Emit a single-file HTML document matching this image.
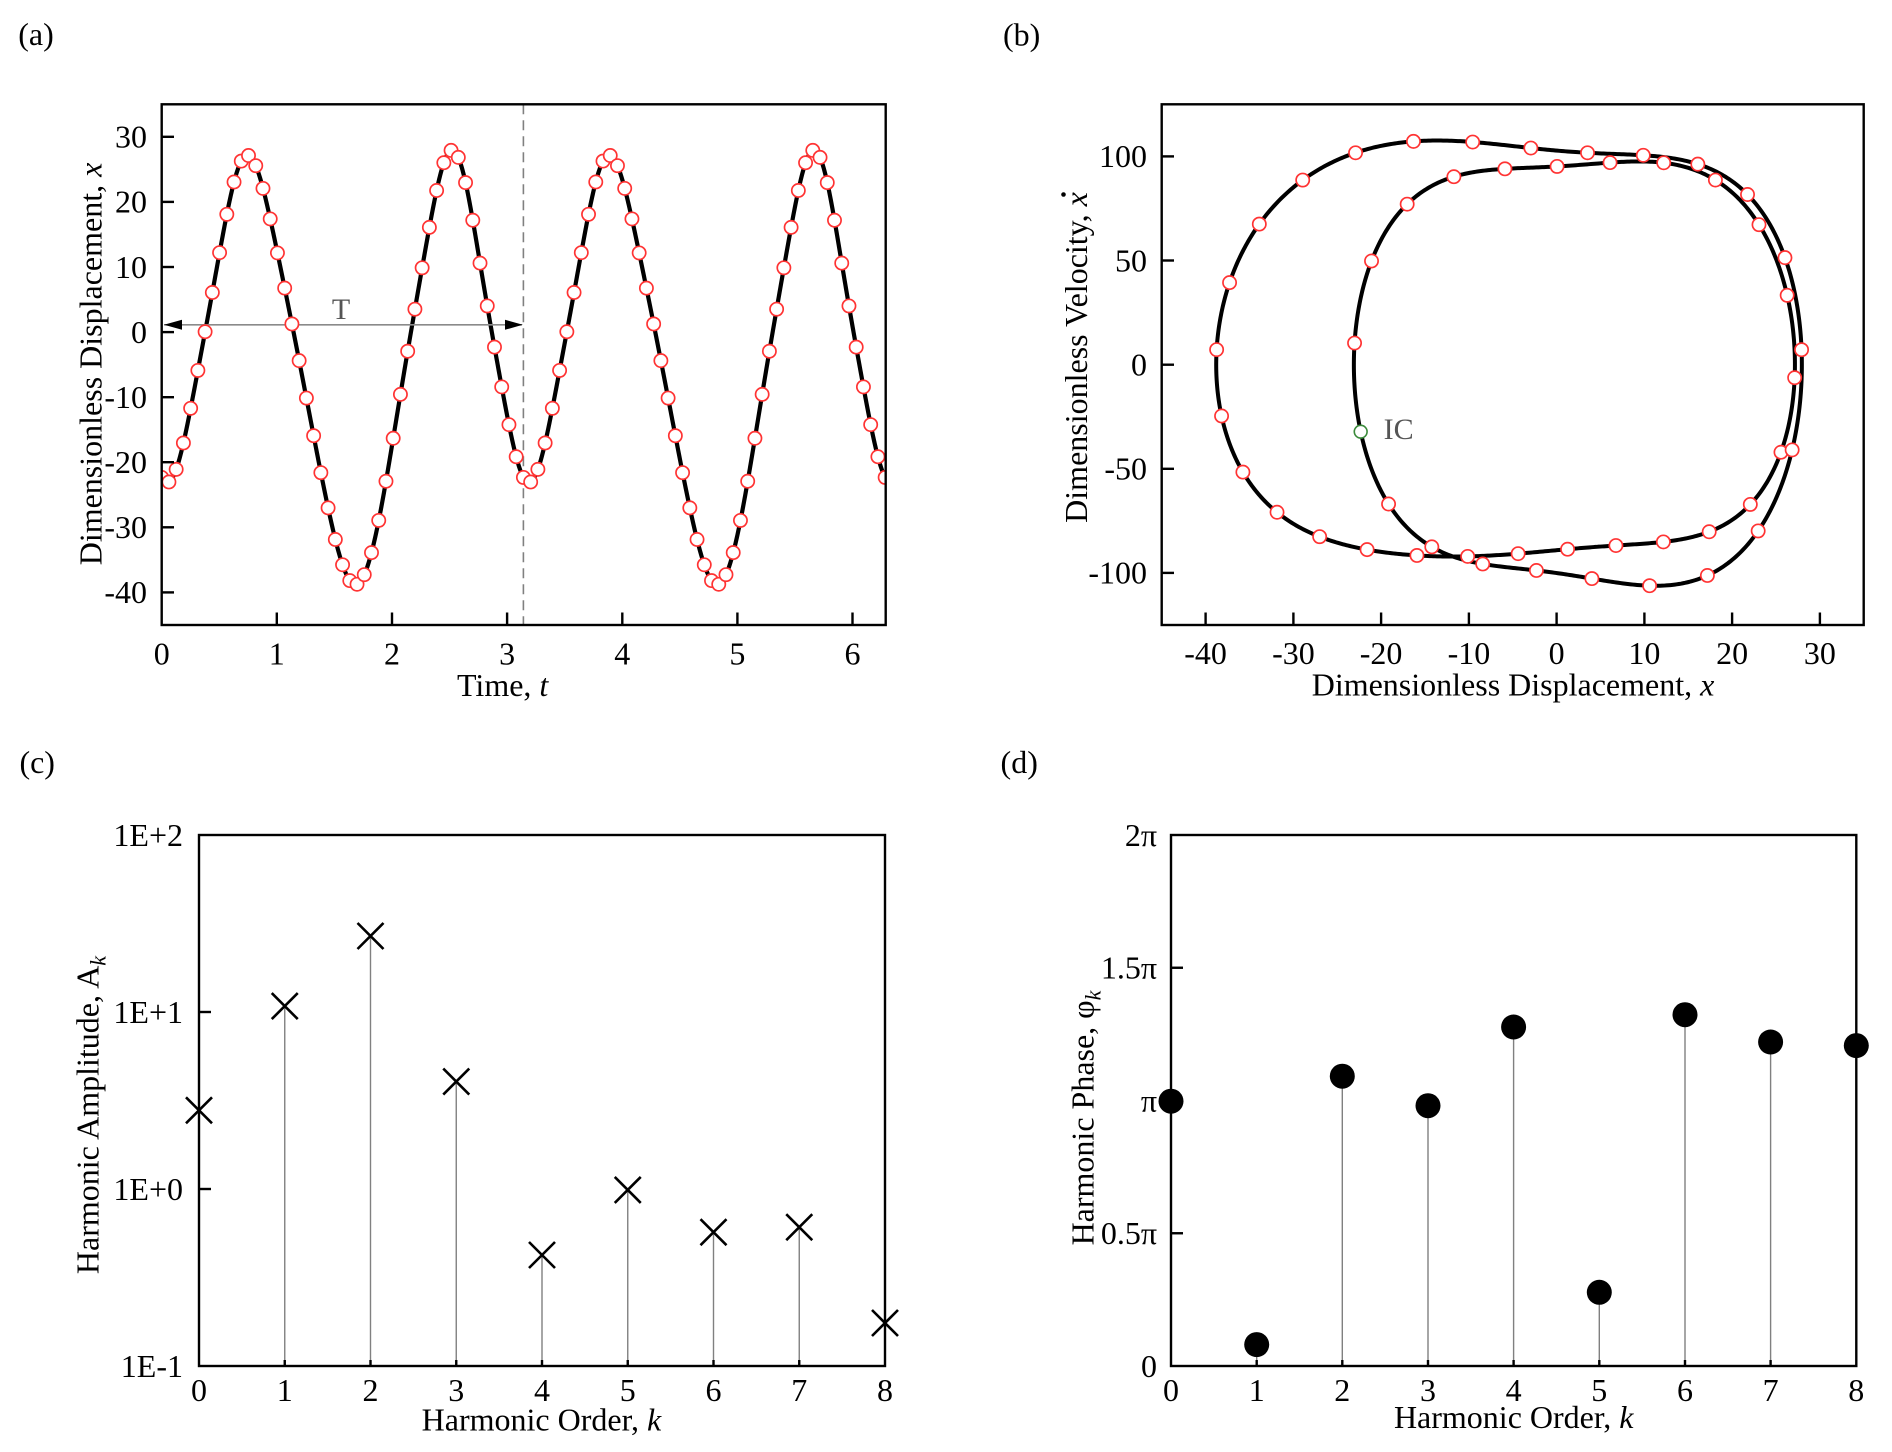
<!DOCTYPE html>
<html>
<head>
<meta charset="utf-8">
<style>
  html,body{margin:0;padding:0;background:#fff;}
  svg{display:block;}
  text{font-family:"Liberation Serif","Times New Roman",serif;fill:#000;}
</style>
</head>
<body>
<svg id="fig" xmlns="http://www.w3.org/2000/svg" width="1892" height="1452" viewBox="0 0 1892 1452">
  <rect x="0" y="0" width="1892" height="1452" fill="#fff"/>
  <defs>
    <clipPath id="clipA"><rect x="161.7" y="104.3" width="724" height="520.7"/></clipPath>
  </defs>

  <!-- ================= Panel (a) ================= -->
  <text x="36" y="45" font-size="32" text-anchor="middle">(a)</text>
  <g id="curveA" clip-path="url(#clipA)"></g>
  <!-- dashed line at t = pi -->
  <line x1="523.4" y1="104.3" x2="523.4" y2="625" stroke="#808080" stroke-width="1.6" stroke-dasharray="10,6"/>
  <!-- T arrow -->
  <line x1="164" y1="324.8" x2="522" y2="324.8" stroke="#8a8a8a" stroke-width="1.6"/>
  <polygon points="164,324.8 182,319.8 182,329.8" fill="#000"/>
  <polygon points="522.8,324.8 505,319.8 505,329.8" fill="#000"/>
  <text x="341" y="319" font-size="30" text-anchor="middle" style="fill:#555">T</text>
  <g id="markersA" clip-path="url(#clipA)"></g>
  <rect x="161.7" y="104.3" width="724" height="520.7" fill="none" stroke="#000" stroke-width="2.4"/>
  <g stroke="#000" stroke-width="2.4">
    <line x1="161.7" y1="136.8" x2="174" y2="136.8"/>
    <line x1="161.7" y1="201.9" x2="174" y2="201.9"/>
    <line x1="161.7" y1="267.0" x2="174" y2="267.0"/>
    <line x1="161.7" y1="332.1" x2="174" y2="332.1"/>
    <line x1="161.7" y1="397.2" x2="174" y2="397.2"/>
    <line x1="161.7" y1="462.2" x2="174" y2="462.2"/>
    <line x1="161.7" y1="527.3" x2="174" y2="527.3"/>
    <line x1="161.7" y1="592.4" x2="174" y2="592.4"/>
    <line x1="276.8" y1="625" x2="276.8" y2="612.5"/>
    <line x1="392.0" y1="625" x2="392.0" y2="612.5"/>
    <line x1="507.1" y1="625" x2="507.1" y2="612.5"/>
    <line x1="622.3" y1="625" x2="622.3" y2="612.5"/>
    <line x1="737.4" y1="625" x2="737.4" y2="612.5"/>
    <line x1="852.5" y1="625" x2="852.5" y2="612.5"/>
  </g>
  <g font-size="32" text-anchor="end">
    <text x="147" y="147.6">30</text>
    <text x="147" y="212.7">20</text>
    <text x="147" y="277.8">10</text>
    <text x="147" y="342.9">0</text>
    <text x="147" y="408.0">-10</text>
    <text x="147" y="473.0">-20</text>
    <text x="147" y="538.1">-30</text>
    <text x="147" y="603.2">-40</text>
  </g>
  <g font-size="32" text-anchor="middle">
    <text x="161.7" y="664.6">0</text>
    <text x="276.8" y="664.6">1</text>
    <text x="392.0" y="664.6">2</text>
    <text x="507.1" y="664.6">3</text>
    <text x="622.3" y="664.6">4</text>
    <text x="737.4" y="664.6">5</text>
    <text x="852.5" y="664.6">6</text>
  </g>
  <text x="457" y="696" font-size="32">Time, <tspan font-style="italic">t</tspan></text>
  <text transform="translate(101.5,364) rotate(-90)" font-size="32" text-anchor="middle">Dimensionless Displacement, <tspan font-style="italic">x</tspan></text>

  <!-- ================= Panel (b) ================= -->
  <text x="1021.6" y="45.5" font-size="32" text-anchor="middle">(b)</text>
  <g id="curveB"></g>
  <g id="markersB"></g>
  <text x="1383.6" y="439.2" font-size="30" style="fill:#555">IC</text>
  <rect x="1161.7" y="104.3" width="702" height="520.7" fill="none" stroke="#000" stroke-width="2.4"/>
  <g stroke="#000" stroke-width="2.4">
    <line x1="1161.7" y1="156.4" x2="1174" y2="156.4"/>
    <line x1="1161.7" y1="260.5" x2="1174" y2="260.5"/>
    <line x1="1161.7" y1="364.7" x2="1174" y2="364.7"/>
    <line x1="1161.7" y1="468.8" x2="1174" y2="468.8"/>
    <line x1="1161.7" y1="572.9" x2="1174" y2="572.9"/>
    <line x1="1205.6" y1="625" x2="1205.6" y2="612.5"/>
    <line x1="1293.4" y1="625" x2="1293.4" y2="612.5"/>
    <line x1="1381.1" y1="625" x2="1381.1" y2="612.5"/>
    <line x1="1468.9" y1="625" x2="1468.9" y2="612.5"/>
    <line x1="1556.6" y1="625" x2="1556.6" y2="612.5"/>
    <line x1="1644.4" y1="625" x2="1644.4" y2="612.5"/>
    <line x1="1732.1" y1="625" x2="1732.1" y2="612.5"/>
    <line x1="1819.9" y1="625" x2="1819.9" y2="612.5"/>
  </g>
  <g font-size="32" text-anchor="end">
    <text x="1147" y="167.2">100</text>
    <text x="1147" y="271.3">50</text>
    <text x="1147" y="375.5">0</text>
    <text x="1147" y="479.6">-50</text>
    <text x="1147" y="583.7">-100</text>
  </g>
  <g font-size="32" text-anchor="middle">
    <text x="1205.6" y="664.1">-40</text>
    <text x="1293.4" y="664.1">-30</text>
    <text x="1381.1" y="664.1">-20</text>
    <text x="1468.9" y="664.1">-10</text>
    <text x="1556.6" y="664.1">0</text>
    <text x="1644.4" y="664.1">10</text>
    <text x="1732.1" y="664.1">20</text>
    <text x="1819.9" y="664.1">30</text>
  </g>
  <text x="1513" y="695.6" font-size="32" text-anchor="middle">Dimensionless Displacement, <tspan font-style="italic">x</tspan></text>
  <g transform="translate(1087,357.5) rotate(-90)">
    <text x="0" y="0" font-size="32" text-anchor="middle">Dimensionless Velocity, <tspan font-style="italic">x</tspan></text>
    <circle cx="163" cy="-23.5" r="2.3" fill="#000"/>
  </g>

  <!-- ================= Panel (c) ================= -->
  <text x="37.2" y="773" font-size="32" text-anchor="middle">(c)</text>
  <g stroke="#808080" stroke-width="1.4">
    <line x1="284.75" y1="1366" x2="284.75" y2="1006.1"/>
    <line x1="370.5" y1="1366" x2="370.5" y2="936.0"/>
    <line x1="456.25" y1="1366" x2="456.25" y2="1081.6"/>
    <line x1="542" y1="1366" x2="542" y2="1255.0"/>
    <line x1="627.75" y1="1366" x2="627.75" y2="1189.9"/>
    <line x1="713.5" y1="1366" x2="713.5" y2="1232.2"/>
    <line x1="799.25" y1="1366" x2="799.25" y2="1227.2"/>
  </g>
  <rect x="199" y="835" width="686" height="531" fill="none" stroke="#000" stroke-width="2.4"/>
  <g stroke="#000" stroke-width="2.4">
    <line x1="199" y1="1012" x2="211" y2="1012"/>
    <line x1="199" y1="1189" x2="211" y2="1189"/>
    <line x1="284.75" y1="1366" x2="284.75" y2="1360"/>
    <line x1="370.5" y1="1366" x2="370.5" y2="1360"/>
    <line x1="456.25" y1="1366" x2="456.25" y2="1360"/>
    <line x1="542" y1="1366" x2="542" y2="1360"/>
    <line x1="627.75" y1="1366" x2="627.75" y2="1360"/>
    <line x1="713.5" y1="1366" x2="713.5" y2="1360"/>
    <line x1="799.25" y1="1366" x2="799.25" y2="1360"/>
  </g>
  <g id="crossC" stroke="#000" stroke-width="2.6" fill="none"></g>
  <g font-size="32" text-anchor="end">
    <text x="183" y="845.8">1E+2</text>
    <text x="183" y="1022.8">1E+1</text>
    <text x="183" y="1199.8">1E+0</text>
    <text x="183" y="1376.8">1E-1</text>
  </g>
  <g font-size="32" text-anchor="middle">
    <text x="199" y="1400.8">0</text>
    <text x="284.75" y="1400.8">1</text>
    <text x="370.5" y="1400.8">2</text>
    <text x="456.25" y="1400.8">3</text>
    <text x="542" y="1400.8">4</text>
    <text x="627.75" y="1400.8">5</text>
    <text x="713.5" y="1400.8">6</text>
    <text x="799.25" y="1400.8">7</text>
    <text x="885" y="1400.8">8</text>
  </g>
  <text x="541.4" y="1430.5" font-size="32" text-anchor="middle">Harmonic Order, <tspan font-style="italic">k</tspan></text>
  <text transform="translate(98.3,1115) rotate(-90)" font-size="32" text-anchor="middle">Harmonic Amplitude, A<tspan font-style="italic" font-size="22" dy="7">k</tspan></text>

  <!-- ================= Panel (d) ================= -->
  <text x="1019.2" y="773" font-size="32" text-anchor="middle">(d)</text>
  <g stroke="#808080" stroke-width="1.4">
    <line x1="1256.7" y1="1366" x2="1256.7" y2="1344.6"/>
    <line x1="1342.3" y1="1366" x2="1342.3" y2="1076.2"/>
    <line x1="1428" y1="1366" x2="1428" y2="1105.7"/>
    <line x1="1513.6" y1="1366" x2="1513.6" y2="1027.0"/>
    <line x1="1599.3" y1="1366" x2="1599.3" y2="1292.3"/>
    <line x1="1685" y1="1366" x2="1685" y2="1014.7"/>
    <line x1="1770.6" y1="1366" x2="1770.6" y2="1042.0"/>
  </g>
  <rect x="1171" y="835" width="685.3" height="531" fill="none" stroke="#000" stroke-width="2.4"/>
  <g stroke="#000" stroke-width="2.4">
    <line x1="1171" y1="967.75" x2="1183" y2="967.75"/>
    <line x1="1171" y1="1100.5" x2="1183" y2="1100.5"/>
    <line x1="1171" y1="1233.25" x2="1183" y2="1233.25"/>
    <line x1="1256.7" y1="1366" x2="1256.7" y2="1360"/>
    <line x1="1342.3" y1="1366" x2="1342.3" y2="1360"/>
    <line x1="1428" y1="1366" x2="1428" y2="1360"/>
    <line x1="1513.6" y1="1366" x2="1513.6" y2="1360"/>
    <line x1="1599.3" y1="1366" x2="1599.3" y2="1360"/>
    <line x1="1685" y1="1366" x2="1685" y2="1360"/>
    <line x1="1770.6" y1="1366" x2="1770.6" y2="1360"/>
  </g>
  <g fill="#000">
    <circle cx="1171" cy="1101.2" r="12.5"/>
    <circle cx="1256.7" cy="1344.6" r="12.5"/>
    <circle cx="1342.3" cy="1076.2" r="12.5"/>
    <circle cx="1428" cy="1105.7" r="12.5"/>
    <circle cx="1513.6" cy="1027.0" r="12.5"/>
    <circle cx="1599.3" cy="1292.3" r="12.5"/>
    <circle cx="1685" cy="1014.7" r="12.5"/>
    <circle cx="1770.6" cy="1042.0" r="12.5"/>
    <circle cx="1856.3" cy="1045.6" r="12.5"/>
  </g>
  <g font-size="32" text-anchor="end">
    <text x="1157" y="845.8">2π</text>
    <text x="1157" y="978.5">1.5π</text>
    <text x="1157" y="1111.3">π</text>
    <text x="1157" y="1244">0.5π</text>
    <text x="1157" y="1376.8">0</text>
  </g>
  <g font-size="32" text-anchor="middle">
    <text x="1171" y="1400.8">0</text>
    <text x="1256.7" y="1400.8">1</text>
    <text x="1342.3" y="1400.8">2</text>
    <text x="1428" y="1400.8">3</text>
    <text x="1513.6" y="1400.8">4</text>
    <text x="1599.3" y="1400.8">5</text>
    <text x="1685" y="1400.8">6</text>
    <text x="1770.6" y="1400.8">7</text>
    <text x="1856.3" y="1400.8">8</text>
  </g>
  <text x="1513.7" y="1428" font-size="32" text-anchor="middle">Harmonic Order, <tspan font-style="italic">k</tspan></text>
  <text transform="translate(1093.5,1118) rotate(-90)" font-size="32" text-anchor="middle">Harmonic Phase, φ<tspan font-style="italic" font-size="22" dy="7">k</tspan></text>
</svg>

<script>
(function(){
  var NS = "http://www.w3.org/2000/svg";
  function el(name, attrs, parent){
    var e = document.createElementNS(NS, name);
    for (var k in attrs) e.setAttribute(k, attrs[k]);
    parent.appendChild(e);
    return e;
  }
  // crosses for panel (c)
  var cg = document.getElementById("crossC");
  var cx = [199,284.75,370.5,456.25,542,627.75,713.5,799.25,885];
  var cy = [1110.3,1006.1,936.0,1081.6,1255.0,1189.9,1232.2,1227.2,1323];
  var h = 13;
  for (var i=0;i<cx.length;i++){
    el("path",{d:"M"+(cx[i]-h)+" "+(cy[i]-h)+"L"+(cx[i]+h)+" "+(cy[i]+h)+"M"+(cx[i]-h)+" "+(cy[i]+h)+"L"+(cx[i]+h)+" "+(cy[i]-h)},cg);
  }

  // measured samples over one period T = pi (50 samples)
  var v = [-22.2,-23.1,-21.1,-17.0,-11.7,-5.9,0.06,6.1,12.2,18.1,23.1,26.2,27.2,25.6,22.0,17.4,12.2,6.8,1.2,-4.4,
           -10.1,-15.9,-21.6,-27.0,-31.9,-35.7,-38.2,-38.7,-37.3,-33.9,-28.9,-22.9,-16.3,-9.6,-2.9,3.5,9.9,16.1,21.8,25.9,
           28.0,26.9,22.9,17.2,10.6,4.0,-2.2,-8.5,-14.2,-19.2];
  var N = v.length, K = 9;
  var a = [], b = [];
  for (var k=0;k<=K;k++){
    var sa=0, sb=0;
    for (var n=0;n<N;n++){
      var ang = 2*Math.PI*k*n/N;
      sa += v[n]*Math.cos(ang); sb += v[n]*Math.sin(ang);
    }
    a.push(2*sa/N); b.push(2*sb/N);
  }
  function f(t){
    var s = a[0]/2;
    for (var k=1;k<=K;k++){ s += a[k]*Math.cos(2*k*t) + b[k]*Math.sin(2*k*t); }
    return s;
  }
  function df(t){
    var s = 0;
    for (var k=1;k<=K;k++){ s += 2*k*(-a[k]*Math.sin(2*k*t) + b[k]*Math.cos(2*k*t)); }
    return s;
  }
  // Panel (a)
  function AX(t){ return 161.7 + 115.14*t; }
  function AY(x){ return 104.3 + (35 - x)*6.509; }
  var d = "", M = 1400;
  for (var i=0;i<=M;i++){
    var t = 2*Math.PI*i/M;
    d += (i?"L":"M") + AX(t).toFixed(2) + " " + AY(f(t)).toFixed(2);
  }
  el("path",{d:d, fill:"none", stroke:"#000", "stroke-width":"4.2", "stroke-linejoin":"round"}, document.getElementById("curveA"));
  var ma = document.getElementById("markersA");
  for (var i=0;i<=100;i++){
    var t = Math.PI*i/50;
    el("circle",{cx:AX(t).toFixed(2), cy:AY(f(t)).toFixed(2), r:"6.6", fill:"#fff", stroke:"#ff3333", "stroke-width":"1.7"}, ma);
  }
  // Panel (b)
  function BX(x){ return 1161.7 + (x + 45)*8.775; }
  function BY(y){ return 104.3 + (125 - y)*2.0828; }
  d = "";
  for (var i=0;i<=M;i++){
    var t = Math.PI*i/M;
    d += (i?"L":"M") + BX(f(t)).toFixed(2) + " " + BY(df(t)).toFixed(2);
  }
  d += "Z";
  el("path",{d:d, fill:"none", stroke:"#000", "stroke-width":"4", "stroke-linejoin":"round"}, document.getElementById("curveB"));
  var mb = document.getElementById("markersB");
  for (var i=1;i<50;i++){
    var t = Math.PI*i/50;
    el("circle",{cx:BX(f(t)).toFixed(2), cy:BY(df(t)).toFixed(2), r:"6.6", fill:"#fff", stroke:"#ff3333", "stroke-width":"1.7"}, mb);
  }
  el("circle",{cx:BX(f(0)).toFixed(2), cy:BY(df(0)).toFixed(2), r:"6.4", fill:"#fff", stroke:"#3a8a3a", "stroke-width":"1.6"}, mb);
})();
</script>
</body>
</html>
